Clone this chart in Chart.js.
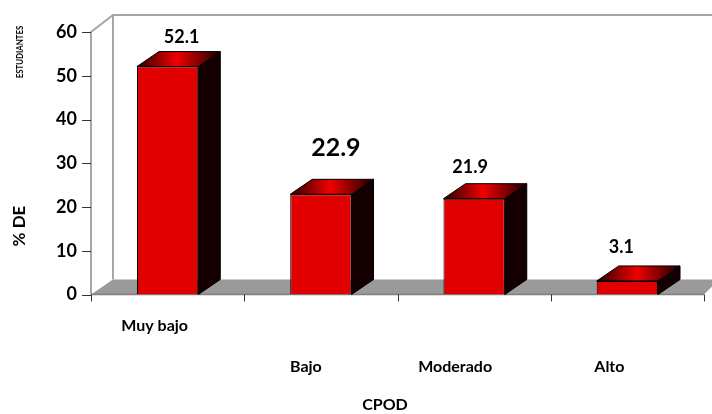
<!DOCTYPE html>
<html>
<head>
<meta charset="utf-8">
<style>html,body{margin:0;padding:0;background:#fff}canvas{display:block}</style>
<script src="https://cdn.jsdelivr.net/npm/chart.js@4"></script>
</head>
<body>
<canvas id="c" width="712" height="414"></canvas>
<script>
const categories = ['Muy bajo', 'Bajo', 'Moderado', 'Alto'];
const values = [52.1, 22.9, 21.9, 3.1];
const yTicks = [0, 10, 20, 30, 40, 50, 60];
const valueLabelSizes = [18, 25, 18, 18];
const valueLabelOffsets = [[14, -29], [15, -46], [-4, -32], [-6, -34]];
const categoryLabelOffsets = [[-13, 326], [-15, 367], [-19, 367], [-18, 367]];
const xTitle = 'CPOD';
const yTitle = '% DE';
const yTitleSmall = 'ESTUDIANTES';

const DEPTH_X = 22, DEPTH_Y = -15;
const FONT = 'Lato, Carlito, sans-serif';

function hGradient(ctx, x0, x1) {
  const g = ctx.createLinearGradient(x0, 0, x1, 0);
  g.addColorStop(0, '#140000');
  g.addColorStop(0.12, '#5a0000');
  g.addColorStop(0.5, '#ff0000');
  g.addColorStop(0.88, '#5a0000');
  g.addColorStop(1, '#140000');
  return g;
}

// Pseudo-3D room: back wall outline, side wall and grey floor
const room = {
  id: 'room',
  beforeDatasetsDraw(chart) {
    const { ctx, chartArea: a } = chart;
    const bx = a.left + DEPTH_X, by = a.bottom + DEPTH_Y, ty = a.top + DEPTH_Y - 2;
    const W = chart.width;
    ctx.save();
    ctx.fillStyle = '#9a9a9a';
    ctx.beginPath();
    ctx.moveTo(a.left, a.bottom);
    ctx.lineTo(bx, by);
    ctx.lineTo(W, by);
    ctx.lineTo(W, a.bottom - 8);
    ctx.lineTo(a.right, a.bottom);
    ctx.closePath();
    ctx.fill();
    ctx.strokeStyle = '#a6a6a6';
    ctx.lineWidth = 2;
    ctx.beginPath();
    ctx.moveTo(a.left, a.bottom);
    ctx.lineTo(a.left, a.top);
    ctx.lineTo(bx, ty);
    ctx.lineTo(W, ty);
    ctx.moveTo(bx, ty);
    ctx.lineTo(bx, by);
    ctx.stroke();
    ctx.strokeStyle = '#7f7f7f';
    ctx.lineWidth = 1.5;
    ctx.beginPath();
    ctx.moveTo(a.left, a.bottom);
    ctx.lineTo(a.right, a.bottom);
    ctx.stroke();
    ctx.restore();
  }
};

// Side and top faces extruded from each bar element
const extrude = {
  id: 'extrude',
  beforeDatasetDraw(chart) {
    const { ctx } = chart;
    chart.getDatasetMeta(0).data.forEach(bar => {
      const l = bar.x - bar.width / 2, r = bar.x + bar.width / 2;
      const t = bar.y, b = bar.base;
      ctx.save();
      ctx.strokeStyle = '#000';
      ctx.lineWidth = 1;
      ctx.fillStyle = '#140000';
      ctx.beginPath();
      ctx.moveTo(r, t);
      ctx.lineTo(r + DEPTH_X, t + DEPTH_Y);
      ctx.lineTo(r + DEPTH_X, b + DEPTH_Y);
      ctx.lineTo(r, b);
      ctx.closePath();
      ctx.fill();
      ctx.stroke();
      const g = ctx.createLinearGradient(l, 0, r + DEPTH_X, 0);
      g.addColorStop(0, '#2a0000');
      g.addColorStop(0.48, '#f00000');
      g.addColorStop(1, '#1a0000');
      ctx.fillStyle = g;
      ctx.beginPath();
      ctx.moveTo(l, t);
      ctx.lineTo(l + DEPTH_X, t + DEPTH_Y);
      ctx.lineTo(r + DEPTH_X, t + DEPTH_Y);
      ctx.lineTo(r, t);
      ctx.closePath();
      ctx.fill();
      ctx.stroke();
      ctx.restore();
    });
  }
};

// Value labels, staggered category labels, axis titles and tick marks
const annotate = {
  id: 'annotate',
  afterDraw(chart) {
    const { ctx, chartArea: a, scales: { x } } = chart;
    const meta = chart.getDatasetMeta(0);
    ctx.save();
    ctx.fillStyle = '#000';
    ctx.textAlign = 'center';
    ctx.textBaseline = 'middle';

    meta.data.forEach((bar, i) => {
      ctx.font = `bold ${valueLabelSizes[i]}px ${FONT}`;
      ctx.fillText(values[i].toFixed(1), bar.x + valueLabelOffsets[i][0], bar.y + valueLabelOffsets[i][1]);
    });

    ctx.font = `bold 16px ${FONT}`;
    categories.forEach((c, i) => {
      ctx.fillText(c, x.getPixelForValue(i) + categoryLabelOffsets[i][0], categoryLabelOffsets[i][1]);
    });
    ctx.fillText(xTitle, 385, 405);

    ctx.save();
    ctx.translate(20, 226);
    ctx.rotate(-Math.PI / 2);
    ctx.font = `bold 17px ${FONT}`;
    ctx.fillText(yTitle, 0, 0);
    ctx.restore();

    ctx.save();
    ctx.translate(20, 52);
    ctx.rotate(-Math.PI / 2);
    ctx.scale(0.78, 1);
    ctx.font = `bold 10px ${FONT}`;
    ctx.fillText(yTitleSmall, 0, 0);
    ctx.restore();

    // category boundary ticks below the floor
    ctx.strokeStyle = '#333';
    ctx.lineWidth = 1;
    ctx.beginPath();
    for (let i = 0; i <= categories.length; i++) {
      const px = Math.round(a.left + (a.right - a.left) * i / categories.length) + 0.5;
      ctx.moveTo(px, a.bottom);
      ctx.lineTo(px, a.bottom + 7);
    }
    ctx.stroke();
    ctx.restore();
  }
};

new Chart(document.getElementById('c'), {
  type: 'bar',
  data: {
    labels: categories,
    datasets: [{
      data: values,
      barPercentage: 0.4,
      categoryPercentage: 1,
      borderColor: '#000',
      borderWidth: 1,
      backgroundColor(ctx) {
        const el = ctx.element;
        if (!el || !el.width) return '#e00000';
        return hGradient(ctx.chart.ctx, el.x - el.width / 2, el.x + el.width / 2);
      }
    }]
  },
  options: {
    responsive: false,
    animation: false,
    layout: { padding: { top: 32, right: 8, bottom: 0, left: 0 } },
    plugins: { legend: { display: false }, tooltip: { enabled: false } },
    scales: {
      x: {
        grid: { display: false },
        border: { display: false },
        ticks: { display: false },
        afterFit(s) { s.height = 119.5; }
      },
      y: {
        min: 0,
        max: 60,
        afterFit(s) { s.width = 91; },
        afterBuildTicks(s) { s.ticks = yTicks.map(v => ({ value: v })); },
        grid: { display: false, drawTicks: false },
        border: { display: false },
        ticks: {
          color: '#000',
          padding: 14,
          font: { family: FONT, size: 18, weight: 'bold' }
        }
      }
    }
  },
  plugins: [room, extrude, annotate, {
    id: 'yTickMarks',
    afterDraw(chart) {
      const { ctx, chartArea: a, scales: { y } } = chart;
      ctx.save();
      ctx.strokeStyle = '#333';
      ctx.lineWidth = 1;
      ctx.beginPath();
      yTicks.forEach(v => {
        const py = Math.round(y.getPixelForValue(v)) + 0.5;
        ctx.moveTo(a.left - 9, py);
        ctx.lineTo(a.left, py);
      });
      ctx.stroke();
      ctx.restore();
    }
  }]
});
</script>
</body>
</html>
